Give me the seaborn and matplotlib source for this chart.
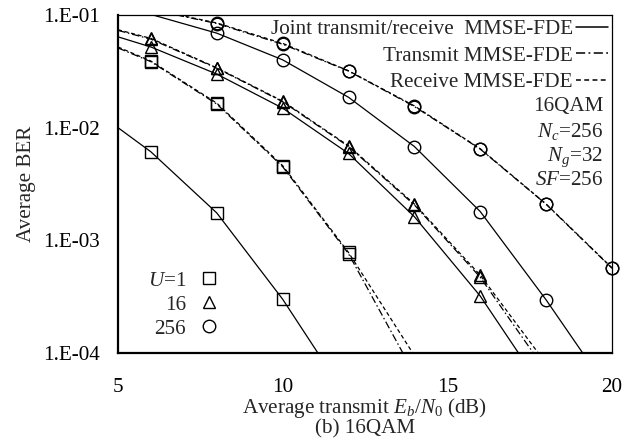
import numpy as np
import matplotlib
matplotlib.use("Agg")
import matplotlib.pyplot as plt
from matplotlib.lines import Line2D
from matplotlib.ticker import FixedLocator, FuncFormatter, LogLocator, NullFormatter
import seaborn as sns

# Eb/N0 (dB) and average BER
snr_u1_joint = [5, 6, 8, 10, 11.07]
ber_u1_joint = [1.0e-2, 6.1e-3, 1.75e-3, 3.0e-4, 1.0e-4]
snr_u1_tx = [5, 6, 8, 10, 12, 13.65]
ber_u1_tx = [5.1e-2, 3.85e-2, 1.62e-2, 4.5e-3, 7.6e-4, 1.0e-4]
snr_u1_rx = [5, 6, 8, 10, 12, 13.95]
ber_u1_rx = [5.2e-2, 3.9e-2, 1.65e-2, 4.6e-3, 7.8e-4, 1.0e-4]

snr_u16_joint = [5, 6, 8, 10, 12, 14, 16, 17.16]
ber_u16_joint = [6.4e-2, 5.2e-2, 2.99e-2, 1.49e-2, 5.9e-3, 1.62e-3, 3.2e-4, 1.0e-4]
snr_u16_tx = [5, 6, 8, 10, 12, 14, 16, 17.61]
ber_u16_tx = [7.3e-2, 6.1e-2, 3.37e-2, 1.70e-2, 6.8e-3, 2.06e-3, 4.7e-4, 1.0e-4]
snr_u16_rx = [5, 6, 8, 10, 12, 14, 16, 17.76]
ber_u16_rx = [7.4e-2, 6.2e-2, 3.4e-2, 1.72e-2, 6.9e-3, 2.1e-3, 4.9e-4, 1.0e-4]

snr_u256_joint = [6.06, 8, 10, 12, 14, 16, 18, 19.11]
ber_u256_joint = [1.0e-1, 6.9e-2, 4.0e-2, 1.86e-2, 6.8e-3, 1.8e-3, 2.96e-4, 1.0e-4]
snr_u256_tx = [6.78, 8, 10, 12, 14, 16, 18, 20]
ber_u256_tx = [1.0e-1, 8.4e-2, 5.5e-2, 3.18e-2, 1.54e-2, 6.45e-3, 2.09e-3, 5.65e-4]
snr_u256_rx = [6.85, 8, 10, 12, 14, 16, 18, 20]
ber_u256_rx = [1.0e-1, 8.5e-2, 5.6e-2, 3.2e-2, 1.56e-2, 6.5e-3, 2.1e-3, 5.7e-4]

schemes = ["Joint transmit/receive  MMSE-FDE", "Transmit MMSE-FDE", "Receive MMSE-FDE"]
users = ["$U$=1", "16", "256"]
info_lines = ["16QAM", "$N_c$=256", "$N_g$=32", "$SF$=256"]
yticks = [1e-4, 1e-3, 1e-2, 1e-1]

sns.set_style("white")
plt.rcParams["font.family"] = ["Liberation Serif", "DejaVu Serif"]
plt.rcParams["mathtext.fontset"] = "custom"
plt.rcParams["mathtext.rm"] = "Liberation Serif"
plt.rcParams["mathtext.it"] = "Liberation Serif:italic"
fs = 15.2

styles = {
    schemes[0]: "-",
    schemes[1]: (0, (6, 2.2, 1.2, 2.2)),
    schemes[2]: (0, (3.2, 2.2)),
}
marks = {users[0]: "s", users[1]: "^", users[2]: "o"}

curves = [
    (snr_u1_joint, ber_u1_joint, schemes[0], users[0]),
    (snr_u1_tx, ber_u1_tx, schemes[1], users[0]),
    (snr_u1_rx, ber_u1_rx, schemes[2], users[0]),
    (snr_u16_joint, ber_u16_joint, schemes[0], users[1]),
    (snr_u16_tx, ber_u16_tx, schemes[1], users[1]),
    (snr_u16_rx, ber_u16_rx, schemes[2], users[1]),
    (snr_u256_joint, ber_u256_joint, schemes[0], users[2]),
    (snr_u256_tx, ber_u256_tx, schemes[1], users[2]),
    (snr_u256_rx, ber_u256_rx, schemes[2], users[2]),
]

fig = plt.figure(figsize=(6.38, 4.41), dpi=100)
ax = fig.add_axes([118 / 638, 1 - 353 / 441, 494 / 638, 338 / 441])

for snr, ber, sch, u in curves:
    sns.lineplot(x=snr, y=ber, ax=ax, color="black", lw=0.9, linestyle=styles[sch],
                 sort=False, estimator=None, legend=False)
    # markers only at even dB points
    mx = [x for x in snr if float(x).is_integer() and x % 2 == 0]
    my = [y for x, y in zip(snr, ber) if float(x).is_integer() and x % 2 == 0]
    sns.lineplot(x=mx, y=my, ax=ax, color="black", linestyle="none", marker=marks[u],
                 ms=9, mfc="none", mec="black", mew=1.0, clip_on=False,
                 sort=False, estimator=None, legend=False)

ax.set_yscale("log")
ax.set_xlim(5, 20)
ax.set_ylim(1e-4, 1e-1)
ax.xaxis.set_major_locator(FixedLocator([5, 10, 15, 20]))
ax.xaxis.set_minor_locator(FixedLocator(np.arange(5, 21, 1)))
ax.yaxis.set_major_locator(FixedLocator(yticks))
ax.yaxis.set_minor_locator(LogLocator(base=10, subs=np.arange(2, 10)))
ax.yaxis.set_minor_formatter(NullFormatter())
ax.yaxis.set_major_formatter(FuncFormatter(lambda v, p: "1.E-%02d" % round(-np.log10(v))))
ax.tick_params(axis="both", which="both", direction="in", labelsize=fs, colors="black")
ax.tick_params(axis="y", which="major", length=5, width=1, pad=13)
ax.tick_params(axis="y", which="minor", length=4, width=0.8)
ax.tick_params(axis="x", which="major", length=5, width=1, pad=18)
ax.tick_params(axis="x", which="minor", length=4, width=0.8)

for side in ["top", "right"]:
    ax.spines[side].set_linewidth(0.9)
for side in ["left", "bottom"]:
    ax.spines[side].set_linewidth(1.6)
for sp in ax.spines.values():
    sp.set_color("black")
    sp.set_visible(True)

ax.set_xlabel("Average transmit $E_b/N_0$ (dB)", fontsize=fs, labelpad=-1)
ax.set_ylabel("Average BER", fontsize=fs, labelpad=5)
fig.text(365 / 638, 1 - 429 / 441, "(b) 16QAM", ha="center", va="center", fontsize=fs)

scheme_handles = [Line2D([], [], color="black", lw=1.1, linestyle=styles[s]) for s in schemes]
leg1 = ax.legend(scheme_handles, schemes, loc="upper right", bbox_to_anchor=(1, 1),
                 markerfirst=False, frameon=False, fontsize=fs, handlelength=1.5,
                 handletextpad=0.15, labelspacing=0.33, borderpad=0, borderaxespad=0.2)
ax.add_artist(leg1)

info_y = [107, 132, 157, 181]
for txt, yy in zip(info_lines, info_y):
    ax.text((603 - 118) / 494, (353 - yy) / 338, txt, transform=ax.transAxes,
            ha="right", va="center", fontsize=fs)

user_handles = [Line2D([], [], color="black", linestyle="none", marker=marks[u], ms=9,
                       mfc="none", mew=1.0) for u in users]
ax.legend(user_handles, users, loc="center left", bbox_to_anchor=(0.06, (353 - 305) / 338),
          markerfirst=False, frameon=False, fontsize=fs, handlelength=1.0,
          handletextpad=0.6, labelspacing=0.2, borderpad=0, borderaxespad=0)

fig.savefig("out.png", dpi=100)
